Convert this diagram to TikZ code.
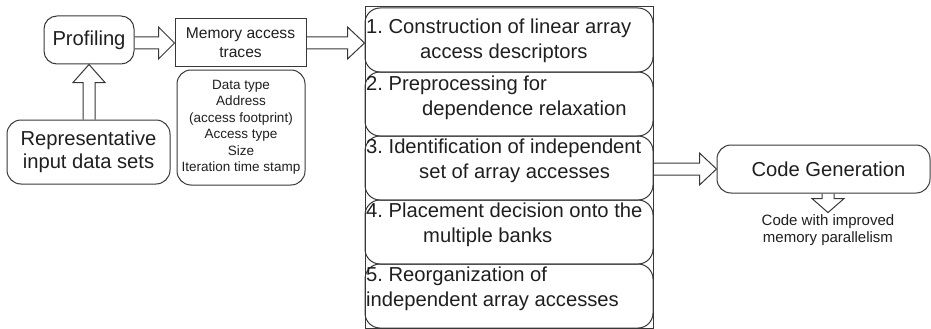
\documentclass[tikz,border=0pt]{standalone}
\usepackage{fontspec}
\setmainfont{Liberation Sans}
\usetikzlibrary{calc}
\frenchspacing
\definecolor{linec}{gray}{0.22}
\definecolor{textc}{gray}{0.12}
\tikzset{
  rbox/.style={draw=linec, line width=1pt, rounded corners=13pt, inner sep=0pt, text=textc, align=center},
  stepbox/.style={rbox, minimum width=288pt, minimum height=64pt, rounded corners=15pt},
  steptext/.style={anchor=west, align=left, inner sep=0pt, text=textc, font=\fontsize{20.2}{25}\selectfont},
  hollow/.style={draw=linec, line width=1pt, line join=miter},
}
% block arrows, head length as third argument
\newcommand{\fatright}[3]{%
  \draw[hollow] ($(#1)+(0,-6)$) -- ($(#2)+(-#3,-6)$) -- ($(#2)+(-#3,-16)$) -- (#2)
    -- ($(#2)+(-#3,16)$) -- ($(#2)+(-#3,6)$) -- ($(#1)+(0,6)$);}
\newcommand{\fatvert}[3]{%
  \draw[hollow] ($(#1)+(-6,0)$) -- ($(#2)+(-6,#3)$) -- ($(#2)+(-16,#3)$) -- (#2)
    -- ($(#2)+(16,#3)$) -- ($(#2)+(6,#3)$) -- ($(#1)+(6,0)$);}
\begin{document}
\begin{tikzpicture}[x=1pt, y=-1pt]
    \useasboundingbox (0,0) rectangle (931,329);
    % left column
    \node [rbox, minimum width=90pt, minimum height=48pt, font=\fontsize{20.2}{24}\selectfont] (prof) at (89,40) {Profiling};
    \node [rbox, minimum width=163pt, minimum height=64pt, rounded corners=14pt, font=\fontsize{20.2}{23}\selectfont] (rep) at (88.5,152) {Representative\\input data sets};
    \node [rbox, rounded corners=0pt, minimum width=131pt, minimum height=48pt, font=\fontsize{15.6}{19}\selectfont] (mem) at (240.5,43) {Memory access\\traces};
    \node [rbox, minimum width=128pt, minimum height=115pt, rounded corners=14pt, font=\fontsize{13.5}{16.5}\selectfont] (info) at (241,127.5)
        {Data type\\Address\\(access footprint)\\Access type\\Size\\Iteration time stamp};
    % the five steps
    \draw [linec, line width=1pt] (365,7) rectangle (653,328.5);
    \node [stepbox] (s1) at (509,40) {};
    \node [stepbox] (s2) at (509,104) {};
    \node [stepbox] (s3) at (509,168) {};
    \node [stepbox] (s4) at (509,232) {};
    \node [stepbox] (s5) at (509,296) {};
    \node [steptext] (t1) at (366,40.5) {1. Construction of linear array\\\hspace*{54pt}access descriptors};
    \node [steptext] (t2) at (366,97.5) {2. Preprocessing for\\\hspace*{56pt}dependence relaxation};
    \node [steptext] (t3) at (366,161) {3. Identification of independent\\\hspace*{53pt}set of array accesses};
    \node [steptext] (t4) at (366,225) {4. Placement decision onto the\\\hspace*{57pt}multiple banks};
    \node [steptext] (t5) at (366,288.5) {5. Reorganization of\\independent array accesses};
    % right side
    \node [rbox, minimum width=213pt, minimum height=48pt, rounded corners=14pt, font=\fontsize{20.2}{24}\selectfont] (gen) at (823.5,169) {\hspace*{10pt}Code Generation};
    \node [inner sep=2pt, align=center, text=textc, font=\fontsize{15}{16.5}\selectfont] (out) at (828,230) {Code with improved\\memory parallelism};
    % connectors
    \coordinate (upfoot) at (prof.south |- rep.north);
    \coordinate (a1foot) at (prof.east |- mem.west);
    \coordinate (a2tip) at (s1.west |- mem.east);
    \coordinate (a3foot) at (s3.east |- gen.west);
    \coordinate (dnfoot) at (out.north |- gen.south);
    \fatvert{upfoot}{prof.south}{18}
    \fatright{a1foot}{mem.west}{16}
    \fatright{mem.east}{a2tip}{17}
    \fatright{a3foot}{gen.west}{17}
    \fatvert{dnfoot}{out.north}{-14}
\end{tikzpicture}
\end{document}
